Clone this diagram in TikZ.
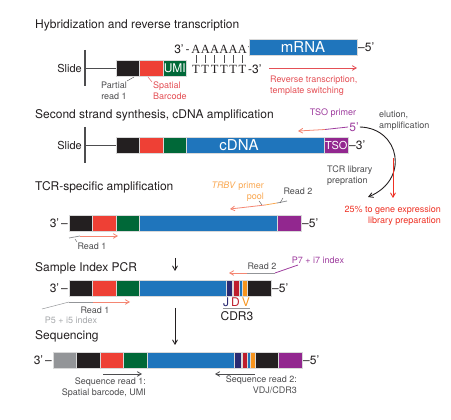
\documentclass[tikz,border=0pt]{standalone}
\usepackage{fontspec}
\setmainfont{TeX Gyre Heros}
\newfontfamily\atfont{Liberation Serif}
\usepackage{tikz}
\usetikzlibrary{arrows,positioning}
\definecolor{segk}{RGB}{35,31,32}
\definecolor{segr}{RGB}{238,64,53}
\definecolor{segg}{RGB}{0,104,56}
\definecolor{segb}{RGB}{31,117,188}
\definecolor{segp}{RGB}{146,39,143}
\definecolor{segn}{RGB}{43,42,114}
\definecolor{segd}{RGB}{190,30,45}
\definecolor{sego}{RGB}{247,148,29}
\definecolor{segy}{RGB}{147,149,152}
\definecolor{txtk}{RGB}{35,31,32}
\definecolor{txtg}{RGB}{77,77,79}
\definecolor{txtl}{RGB}{167,169,172}
\definecolor{txtred}{RGB}{228,80,86}
\definecolor{txtred2}{RGB}{238,49,36}
\definecolor{txtpur}{RGB}{158,61,158}
\definecolor{txtorg}{RGB}{249,168,82}
\definecolor{salm}{RGB}{244,134,114}

\begin{document}
\begin{tikzpicture}[x=1pt,y=-1pt,>=angle 60,
  seg/.style={draw=black!15,line width=0.3pt,anchor=west,minimum width=23.5pt,minimum height=16pt,inner sep=0pt,outer sep=0pt},
  ttl/.style={anchor=west,inner sep=0pt,text=txtk,font=\fontsize{12}{14}\selectfont},
  lbl/.style={inner sep=0pt,text=txtg,font=\fontsize{9}{10.5}\selectfont},
  ends/.style={inner sep=1pt,text=txtk,font=\fontsize{12}{14}\selectfont},
  nuc/.style={inner sep=0.5pt,text=txtk,font=\atfont\fontsize{12.5}{14}\selectfont},
  big/.style={text=white,font=\fontsize{15}{17}\selectfont},
  slide/.style={draw=txtg,line width=1.2pt},
  stem/.style={draw=txtg,line width=0.8pt},
  tick/.style={draw=txtg,line width=0.4pt,shorten <=1.5pt,shorten >=1.5pt},
  leader/.style={draw=txtg,line width=0.4pt},
  salarr/.style={draw=salm,line width=0.8pt},
  grayline/.style={draw=segy,line width=0.8pt},
  purline/.style={draw=txtpur,line width=0.8pt},
  orgline/.style={draw=txtorg,line width=0.8pt},
  blkarr/.style={draw=txtk,line width=0.9pt}]
 \useasboundingbox (0,0) rectangle (451,420);

 % hybridization
 \node[ttl] (t1) at (35,25) {Hybridization and reverse transcription};
 \coordinate (s1a) at (85,50);
 \coordinate (s1b) at (85,86);
 \coordinate (s1m) at (85,68);
 \draw[slide] (s1a) -- (s1b);
 \node[ends,font=\fontsize{11}{13}\selectfont] (sl1) [left=2pt of s1m] {Slide};
 \node[seg,fill=segk] (r1k) at (116,68) {};
 \node[seg,fill=segr] (r1r) [right=0pt of r1k] {};
 \node[seg,fill=segg,text=white,font=\fontsize{12}{14}\selectfont] (r1g) [right=0pt of r1r] {UMI};
 \draw[stem] (s1m) -- (r1k);
 \foreach \i in {0,...,5}{
  \node[nuc] (a\i) at (196+9.3*\i,49) {A};
  \node[nuc] (t\i) at (196+9.3*\i,69) {T};
  \draw[tick] (a\i) -- (t\i);
 }
 \node[ends,anchor=east] (a3) at (a0.west) {3'\,-};
 \node[ends,anchor=west,inner sep=0pt] (adash) at (a5.east) {-};
 \node[ends,anchor=west] (t3) at (t5.east) {-3'};
 \node[seg,fill=segb,minimum width=108pt,big] (mrna) at (249,47) {mRNA};
 \node[ends] (m5) [right=0pt of mrna] {--5'};
 \coordinate (rv0) at (269,68);
 \coordinate (rv1) at (357,68);
 \draw[->,draw=txtred,line width=0.8pt] (rv0) -- (rv1);
 \node[lbl,text=txtred,align=left,anchor=north west] (rvt) at (270,76) {Reverse transcription,\\template switching};
 \node[lbl,align=center,anchor=north] (pr1) at (114,82) {Partial\\read 1};
 \draw[leader] (127,81) -- (134,77);
 \node[lbl,text=txtred,align=left,anchor=north west] (sb) at (153,82) {Spatial\\Barcode};
 \draw[leader,draw=txtred] (148,77) -- (152,82);

 % second strand
 \node[ttl] (t2) at (35,115) {Second strand synthesis, cDNA amplification};
 \coordinate (s2a) at (85,127);
 \coordinate (s2b) at (85,163);
 \coordinate (s2m) at (85,145);
 \draw[slide] (s2a) -- (s2b);
 \node[ends,font=\fontsize{11}{13}\selectfont] (sl2) [left=2pt of s2m] {Slide};
 \node[seg,fill=segk] (r2k) at (116,145) {};
 \node[seg,fill=segr] (r2r) [right=0pt of r2k] {};
 \node[seg,fill=segg] (r2g) [right=0pt of r2r] {};
 \node[seg,fill=segb,minimum width=138pt] (r2b) [right=0pt of r2g] {};
 \node[seg,fill=segp,text=white,font=\fontsize{11}{13}\selectfont] (r2p) [right=0pt of r2b] {TSO};
 \draw[stem] (s2m) -- (r2k);
 \node[big] (cdna) at (239,145) {cDNA};
 \node[ends] (c3) [right=0pt of r2p] {--3'};
 \node[lbl,text=txtpur] (tsop) at (333,113) {TSO primer};
 \node[ends,text=txtpur] (tso5) at (354,127) {5'};
 \coordinate (tsoj) at (325,129.5);
 \coordinate (tsot) at (298,131);
 \draw[purline] (tso5.west) -- (tsoj);
 \draw[->,salarr] (tsoj) -- (tsot);
 \node[lbl,align=left,anchor=north west] (elu) at (379,111) {elution,\\amplification};
 \coordinate (tcre) at (368,197);
 \draw[->,blkarr] (tso5.east) .. controls (400,128) and (410,180) .. (tcre);
 \coordinate (gx0) at (393,158);
 \coordinate (gx1) at (393,198);
 \draw[->,draw=txtred2,line width=0.9pt] (gx0) -- (gx1);
 \node[lbl,align=left,anchor=north west] (tcrl) at (327,166) {TCR library\\prepration};
 \node[lbl,text=txtred2,align=right,anchor=north east] (gex) at (441,206) {25\% to gene expression\\library preparation};

 % TCR amplification
 \node[ttl] (t3t) at (35,187) {TCR-specific amplification};
 \node[seg,fill=segk] (r3k) at (69,223) {};
 \node[seg,fill=segr] (r3r) [right=0pt of r3k] {};
 \node[seg,fill=segg] (r3g) [right=0pt of r3r] {};
 \node[seg,fill=segb,minimum width=138pt] (r3b) [right=0pt of r3g] {};
 \node[seg,fill=segp] (r3p) [right=0pt of r3b] {};
 \node[ends] (r3l) [left=0pt of r3k] {3'\,--};
 \node[ends] (r3e) [right=0pt of r3p] {--5'};
 \node[lbl,text=txtorg,align=right,anchor=north east] (trbv) at (264,182) {\textit{TRBV} primer\\pool};
 \coordinate (tr0) at (230,209);
 \coordinate (tr1) at (265,205);
 \coordinate (tr2) at (277,203);
 \coordinate (tr3) at (287,201);
 \draw[->,salarr] (tr1) -- (tr0);
 \draw[orgline] (tr1) -- (tr2);
 \draw[grayline] (tr2) -- (tr3);
 \draw[leader] (259,201) -- (262,205);
 \draw[leader] (280,203) -- (283,198);
 \node[lbl] (rd2a) at (298,191) {Read 2};
 \coordinate (rd1a) at (69,238);
 \coordinate (rd1b) at (80,236);
 \coordinate (rd1c) at (118,236);
 \draw[grayline] (rd1a) -- (rd1b);
 \draw[->,salarr] (rd1b) -- (rd1c);
 \node[lbl] (rd1t) at (92,246) {Read 1};
 \draw[leader] (75,239) -- (77,242);
 \coordinate (da0) at (175,258);
 \coordinate (da1) at (175,271);
 \draw[->,blkarr] (da0) -- (da1);

 % sample index
 \node[ttl] (t4) at (35,268) {Sample Index PCR};
 \node[seg,fill=segk] (r4k) at (69,288) {};
 \node[seg,fill=segr] (r4r) [right=0pt of r4k] {};
 \node[seg,fill=segg] (r4g) [right=0pt of r4r] {};
 \node[seg,fill=segb,minimum width=87pt] (r4b) [right=0pt of r4g] {};
 \node[seg,fill=segn,minimum width=6pt] (r4j) [right=0pt of r4b] {};
 \node[seg,fill=segb,minimum width=1pt] (r4s1) [right=0pt of r4j] {};
 \node[seg,fill=segd,minimum width=6pt] (r4d) [right=0pt of r4s1] {};
 \node[seg,fill=segb,minimum width=3pt] (r4s2) [right=0pt of r4d] {};
 \node[seg,fill=sego,minimum width=5pt] (r4v) [right=0pt of r4s2] {};
 \node[seg,fill=segk] (r4c) [right=0pt of r4v] {};
 \node[ends] (r4l) [left=0pt of r4k] {3'\,--};
 \node[ends] (r4e) [right=0pt of r4c] {--5'};
 \coordinate (r4a1) at (229,273);
 \coordinate (r4a2) at (247,273);
 \coordinate (r4a3) at (275,273);
 \coordinate (r4a4) at (298,265);
 \draw[->,salarr] (r4a2) -- (r4a1);
 \draw[grayline] (r4a2) -- (r4a3);
 \draw[purline] (r4a3) -- (r4a4);
 \node[lbl] (rd2b) at (262,266) {Read 2};
 \node[lbl,text=txtpur] (p7) at (318,260) {P7 + i7 index};
 \node[inner sep=0pt,font=\fontsize{12}{14}\selectfont] (jdv) at (236.5,302) {\textcolor{segn}{J}\,\textcolor{segd}{D}\,\textcolor{sego}{V}};
 \draw[grayline,line width=0.5pt] ([yshift=-1.5pt]jdv.south west) -- ([yshift=-1.5pt]jdv.south east);
 \node[inner sep=0pt,text=txtk,font=\fontsize{12}{14}\selectfont] (cdr3) at (237,316) {CDR3};
 \coordinate (rd4a) at (42,309);
 \coordinate (rd4b) at (69,302);
 \coordinate (rd4c) at (93,302);
 \coordinate (rd4d) at (130,302);
 \draw[grayline,line width=0.5pt] (rd4a) -- (rd4b);
 \draw[grayline] (rd4b) -- (rd4c);
 \draw[->,salarr] (rd4c) -- (rd4d);
 \node[lbl] (rd4t) at (95,310) {Read 1};
 \node[lbl,text=txtl] (p5) at (71,320) {P5 + i5 index};
 \coordinate (db0) at (175,308);
 \coordinate (db1) at (175,345);
 \draw[->,blkarr] (db0) -- (db1);

 % sequencing
 \node[ttl] (t5t) at (35,336) {Sequencing};
 \node[seg,fill=segy] (r5y) at (53,360) {};
 \node[seg,fill=segk] (r5k) [right=0pt of r5y] {};
 \node[seg,fill=segr] (r5r) [right=0pt of r5k] {};
 \node[seg,fill=segg] (r5g) [right=0pt of r5r] {};
 \node[seg,fill=segb,minimum width=87pt] (r5b) [right=0pt of r5g] {};
 \node[seg,fill=segn,minimum width=7pt] (r5j) [right=0pt of r5b] {};
 \node[seg,fill=segb,minimum width=1pt] (r5s1) [right=0pt of r5j] {};
 \node[seg,fill=segd,minimum width=5pt] (r5d) [right=0pt of r5s1] {};
 \node[seg,fill=segb,minimum width=3pt] (r5s2) [right=0pt of r5d] {};
 \node[seg,fill=sego,minimum width=5pt] (r5v) [right=0pt of r5s2] {};
 \node[seg,fill=segk] (r5c) [right=0pt of r5v] {};
 \node[seg,fill=segp] (r5p) [right=0pt of r5c] {};
 \node[ends] (r5l) [left=0pt of r5y] {3'\,--};
 \node[ends] (r5e) [right=0pt of r5p] {--5'};
 \coordinate (sq1a) at (103,374);
 \coordinate (sq1b) at (142,374);
 \draw[->,grayline,draw=txtg] (sq1a) -- (sq1b);
 \node[lbl,align=right,anchor=north east] (sq1t) at (146,378) {Sequence read 1:\\Spatial barcode, UMI};
 \coordinate (sq2a) at (255,374);
 \coordinate (sq2b) at (215,374);
 \draw[->,grayline,draw=txtg] (sq2a) -- (sq2b);
 \node[lbl,align=right,anchor=north east] (sq2t) at (297,376) {Sequence read 2:\\VDJ/CDR3};
\end{tikzpicture}
\end{document}
